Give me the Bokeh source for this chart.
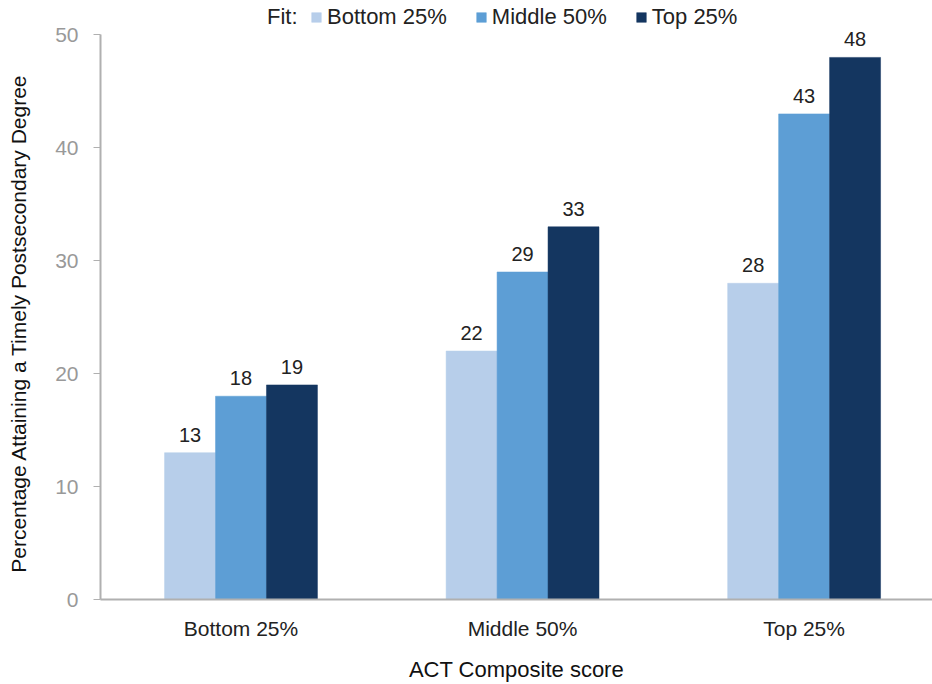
import numpy as np
from bokeh.plotting import figure
from bokeh.models import Range1d, FixedTicker, ColumnDataSource, Legend, LegendItem
from bokeh.transform import dodge
from bokeh.core.properties import value
from bokeh.embed import file_html
from bokeh.resources import INLINE

categories = ["Bottom 25%", "Middle 50%", "Top 25%"]
fit_levels = ["Bottom 25%", "Middle 50%", "Top 25%"]
fit_bottom = [13, 22, 28]
fit_middle = [18, 29, 43]
fit_top = [19, 33, 48]
y_ticks = [0, 10, 20, 30, 40, 50]
legend_title = "Fit:"
y_title = "Percentage Attaining a Timely Postsecondary Degree"
x_title = "ACT Composite score"

colors = ["#B7CEEA", "#5D9ED5", "#143660"]
FONT = "Liberation Sans"

xpos = list(range(len(categories)))
src = ColumnDataSource(dict(x=xpos, b=fit_bottom, m=fit_middle, t=fit_top,
                            bl=[str(v) for v in fit_bottom],
                            ml=[str(v) for v in fit_middle],
                            tl=[str(v) for v in fit_top]))

# frame reaches the top of the canvas so the legend sits inside it;
# the axis line is bounded to 0..50
p = figure(width=932, height=684, output_backend="svg", toolbar_location=None,
           x_range=Range1d(-0.499, 2.456), y_range=Range1d(0, 53.04),
           min_border_left=100, min_border_right=0, min_border_top=0,
           min_border_bottom=82)
p.outline_line_color = None
p.xgrid.visible = False
p.ygrid.visible = False

bw = 0.181
series = [("b", "bl"), ("m", "ml"), ("t", "tl")]
offs = [-bw, 0.0, bw]
items = []
for (col, lab), off, c, name in zip(series, offs, colors, fit_levels):
    r = p.vbar(x=dodge("x", off, range=p.x_range), top=col, width=bw, bottom=0,
               source=src, fill_color=c, line_color=c, line_width=0.5)
    items.append(LegendItem(label=name, renderers=[r]))
    p.text(x=dodge("x", off, range=p.x_range), y=col, text=lab, source=src,
           text_align="center", text_baseline="bottom", y_offset=-11,
           text_font=value(FONT), text_font_size="20px", text_color="#222222")

# x axis
xa = p.xaxis[0]
xa.ticker = FixedTicker(ticks=xpos)
xa.major_label_overrides = {i: c for i, c in zip(xpos, categories)}
xa.major_tick_line_color = None
xa.major_tick_out = 0
xa.major_tick_in = 0
xa.minor_tick_line_color = None
xa.axis_line_color = "#b0b0b0"
xa.axis_line_width = 2
xa.major_label_text_font = FONT
xa.major_label_text_font_size = "21px"
xa.major_label_text_color = "#222222"
xa.major_label_standoff = 17
xa.axis_label = x_title
xa.axis_label_text_font = FONT
xa.axis_label_text_font_size = "22px"
xa.axis_label_text_font_style = "normal"
xa.axis_label_text_color = "#111111"
xa.axis_label_standoff = 14

# y axis
ya = p.yaxis[0]
ya.ticker = FixedTicker(ticks=y_ticks)
ya.bounds = (y_ticks[0], y_ticks[-1])
ya.minor_tick_line_color = None
ya.major_tick_out = 7
ya.major_tick_in = 0
ya.major_tick_line_color = "#b0b0b0"
ya.axis_line_color = "#b0b0b0"
ya.axis_line_width = 2
ya.major_label_text_font = FONT
ya.major_label_text_font_size = "21px"
ya.major_label_text_color = "#999999"
ya.major_label_standoff = 15
# trailing no-break spaces centre the title on the 0..50 span rather than the taller frame
ya.axis_label = y_title + "\u00a0" * 8
ya.axis_label_text_font = FONT
ya.axis_label_text_font_size = "21px"
ya.axis_label_text_font_style = "normal"
ya.axis_label_text_color = "#111111"
ya.axis_label_standoff = 22


def style_legend(lg):
    lg.orientation = "horizontal"
    lg.border_line_color = None
    lg.background_fill_alpha = 0
    lg.padding = 0
    lg.margin = 0
    lg.label_text_font = FONT
    lg.label_text_font_size = "22px"
    lg.label_text_color = "#222222"


lg = Legend(items=items, location=(210, 569))
style_legend(lg)
lg.spacing = 28
lg.glyph_width = 12
lg.glyph_height = 12
lg.label_standoff = 5
p.add_layout(lg)

# legend title "Fit:" as its own legend with an invisible glyph
r0 = p.vbar(x=[], top=[], width=0.1, fill_alpha=0, line_alpha=0)
lg0 = Legend(items=[LegendItem(label=legend_title, renderers=[r0])], location=(166, 569))
style_legend(lg0)
lg0.glyph_width = 1
lg0.glyph_height = 12
lg0.label_standoff = 0
p.add_layout(lg0)

open("out.html", "w").write(file_html(p, INLINE))
